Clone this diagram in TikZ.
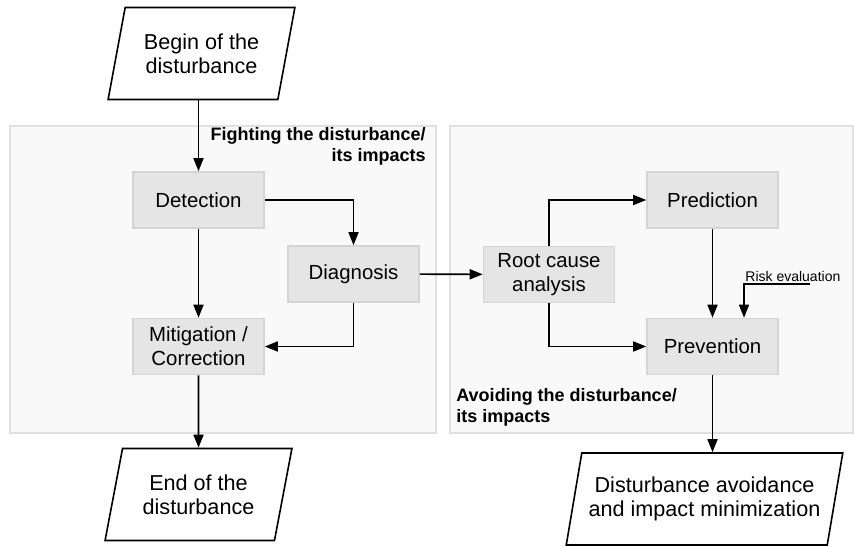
\documentclass[tikz,border=0pt]{standalone}
\usepackage{fontspec}
\setmainfont{Liberation Sans}
\usetikzlibrary{shapes.geometric,arrows.meta}

\begin{document}
\begin{tikzpicture}[x=0.5pt,y=-0.5pt,
 box/.style={draw=black!17,fill=black!10,line width=0.8pt,minimum width=65.5pt,minimum height=28pt,align=center,font=\fontsize{10.2}{12.2}\selectfont},
 io/.style={draw,thick,trapezium,trapezium left angle=75,trapezium right angle=105,trapezium stretches=true,minimum height=46pt,align=center,font=\fontsize{10.8}{12.2}\selectfont},
 panel/.style={draw=black!12,fill=black!2.5,line width=0.6pt},
 lbl/.style={inner sep=0pt,font=\fontsize{9}{10.5}\selectfont\bfseries},
 post/.style={->,>={Triangle[length=6.5pt,width=5pt]},thick}]

\useasboundingbox (0,0) rectangle (854,546);

%the two areas
\draw[panel] (10,126) rectangle (436,433);
\draw[panel] (450,126) rectangle (853,433);

\node[lbl,anchor=east,align=right] (fight) at (426,146.5) {Fighting the disturbance/\\its impacts};
\node[lbl,anchor=west,align=left] (avoid) at (456,407.5) {Avoiding the disturbance/\\its impacts};

\node[io,minimum width=93.5pt] (begin) at (201.5,53.5) {Begin of the\\disturbance};
\node[io,minimum width=93.5pt] (endn) at (198.5,494.5) {End of the\\disturbance};
\node[io,minimum width=138.5pt] (result) at (704.5,499) {Disturbance avoidance\\and impact minimization};

\node[box] (detect) at (198.5,200) {Detection};
\node[box] (diag) at (353.5,274) {Diagnosis};
\node[box] (mitig) at (198.5,346.5) {Mitigation /\\Correction};
\node[box] (root) at (549,274.5) {Root cause\\analysis};
\node[box] (pred) at (712.5,200) {Prediction};
\node[box] (prev) at (712.5,346.5) {Prevention};

\node[anchor=west,inner sep=0pt,font=\fontsize{7}{8}\selectfont] (risk) at (745,276) {Risk evaluation};
\coordinate (riskin) at (810,284);

%left part
\draw[post] (begin.south -| detect) -- (detect);
\draw[post] (detect.east) -| (diag.north);
\draw[post] (detect) -- (mitig);
\draw[post] (diag.south) |- (mitig.east);
\draw[post] (mitig.south) -- (endn.north);

%right part
\draw[post] (diag) -- (root);
\draw[post] (root.north) |- (pred.west);
\draw[post] (root.south) |- (prev.west);
\draw[post] (pred) -- (prev);
\draw[post] (riskin) -| ([xshift=15.75pt]prev.north);
\draw[post] (prev.south) -- (prev.south |- result.north);

\end{tikzpicture}
\end{document}
